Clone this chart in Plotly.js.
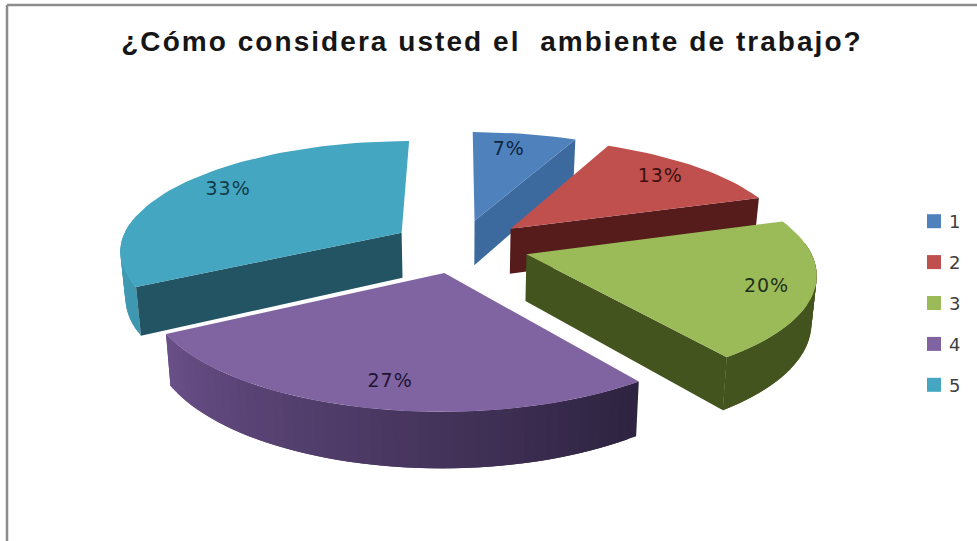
<!DOCTYPE html>
<html>
<head>
<meta charset="utf-8">
<script src="https://cdn.plot.ly/plotly-3.0.1.min.js"></script>
<style>
html,body{margin:0;padding:0;background:#fff}
#chart{width:977px;height:541px}
.gtitle{letter-spacing:2.05px}
.textpoint text{letter-spacing:1px}
.legendtext{transform:translateX(-5px)}
</style>
</head>
<body>
<div id="chart"></div>
<script>
// Survey results
const chartTitle = '¿Cómo considera usted el\u00a0\u00a0ambiente de trabajo?';
const categories = ['1', '2', '3', '4', '5'];
const percents = [7, 13, 20, 27, 33];

// Slice colours: top face, cut-face, rim at its lightest and darkest, label ink
const topColors = ['#4f81bd', '#c0504d', '#9bbb59', '#8064a2', '#44a6c1'];
const cutColors = ['#3c6a9e', '#561c1c', '#44541f', '#3c2c57', '#235463'];
const rimLight = ['#3c6a9e', '#561c1c', '#44541f', '#6a5089', '#48a8c4'];
const rimDark = ['#3c6a9e', '#561c1c', '#44541f', '#2e2340', '#3f97b0'];
const labelInk = ['#10263f', '#3d1110', '#23301a', '#1f1433', '#123c4a'];

// Perspective pie model, expressed in the 977x541 plot coordinates
const CX = 460, CY = 246;      // pie centre
const AX = 282, AY = 109;      // horizontal and vertical semi-axes
const PERSP = 0.15;            // foreshortening toward the back
const EXPLODE = 0.245;         // slice pull-out, in radii
const THICK = 46;              // extrusion height
const BASE_SHRINK = 0.985;     // lower face converges slightly
const STEP = 2;                // arc resolution, degrees
const LABEL_RADIUS = 0.8;      // label distance along each slice's mid-angle
const labelShiftX = [-7, 0, 12, 6, 3];   // small per-label placement tweaks
const labelShiftY = [1, -1, 4, 5, -2];

const rad = d => d * Math.PI / 180;

// Project a point on the pie plane; lower=true gives the extruded base
function project(X, Y, lower) {
  const s = 1 / (1 + PERSP * Y);
  let px = CX + AX * X * s;
  let py = CY - AY * Y * s;
  if (lower) {
    px = CX + (px - CX) * BASE_SHRINK;
    py += THICK * s;
  }
  return [px, py];
}

function hex(c) { return [1, 3, 5].map(i => parseInt(c.substr(i, 2), 16)); }
function mix(a, b, t) {
  const p = hex(a), q = hex(b);
  return 'rgb(' + p.map((v, i) => Math.round(v + (q[i] - v) * t)).join(',') + ')';
}

// Turn the percentages into slice angle ranges, clockwise from twelve o'clock
const total = percents.reduce((a, b) => a + b, 0);
let cursor = 0;
const slices = percents.map((v, i) => {
  const start = cursor;
  cursor += v / total * 360;
  return { i, start, end: cursor, mid: (start + cursor) / 2 };
});

function point(sl, deg, r, lower) {
  const ex = EXPLODE * Math.sin(rad(sl.mid));
  const ey = EXPLODE * Math.cos(rad(sl.mid));
  return project(ex + r * Math.sin(rad(deg)), ey + r * Math.cos(rad(deg)), lower);
}

function polygon(pts, color) {
  return {
    type: 'scatter', mode: 'lines', fill: 'toself', fillcolor: color,
    x: pts.map(p => p[0]), y: pts.map(p => p[1]),
    line: { color: color, width: 0 }, hoverinfo: 'skip', showlegend: false
  };
}

const traces = [];

// Paint back to front so nearer slices cover farther ones
[0, 4, 1, 2, 3].forEach(idx => {
  const sl = slices[idx];
  const wall = deg => polygon([
    point(sl, deg, 0, false), point(sl, deg, 1, false),
    point(sl, deg, 1, true), point(sl, deg, 0, true)
  ], cutColors[idx]);

  // Rim, shaded segment by segment; each segment overlaps the next to hide seams
  for (let a = sl.start; a < sl.end - 1e-6; a += STEP) {
    const b = Math.min(a + STEP * 2, sl.end);
    if (Math.cos(rad(a + STEP / 2)) > 0.1) continue;
    const t = 1 - (a - sl.start) / (sl.end - sl.start);
    const pts = [];
    for (let d = a; d < b; d += 0.5) pts.push(point(sl, d, 1, false));
    pts.push(point(sl, b, 1, false));
    pts.push(point(sl, b, 1, true));
    for (let d = b - 0.5; d >= a; d -= 0.5) pts.push(point(sl, d, 1, true));
    traces.push(polygon(pts, mix(rimLight[idx], rimDark[idx], t)));
  }

  // Cut faces that turn toward the viewer
  if (Math.sin(rad(sl.end)) > 0.01) traces.push(wall(sl.end));
  if (Math.sin(rad(sl.start)) < -0.01) traces.push(wall(sl.start));

  // Top face
  const topPts = [point(sl, sl.start, 0, false)];
  for (let a = sl.start; a < sl.end; a += STEP) topPts.push(point(sl, a, 1, false));
  topPts.push(point(sl, sl.end, 1, false));
  traces.push(polygon(topPts, topColors[idx]));
});

// Percentage labels, placed on the top faces
slices.forEach(sl => {
  const p = point(sl, sl.mid, LABEL_RADIUS, false);
  traces.push({
    type: 'scatter', mode: 'text',
    x: [p[0] + labelShiftX[sl.i]], y: [p[1] + labelShiftY[sl.i]],
    text: [percents[sl.i] + '%'], textposition: 'middle center',
    textfont: { family: 'DejaVu Sans', size: 19, color: labelInk[sl.i] },
    hoverinfo: 'skip', showlegend: false
  });
});

// Legend keys
categories.forEach((c, i) => {
  traces.push({
    type: 'scatter', mode: 'markers', name: c, x: [null], y: [null],
    legendgroup: c,
    marker: { symbol: 'square', size: 14, color: topColors[i] }
  });
});

const frame = { type: 'line', xref: 'paper', yref: 'paper', line: { color: '#8c8c8c', width: 2.5 } };

Plotly.newPlot('chart', traces, {
  width: 977, height: 541,
  margin: { l: 0, r: 0, t: 0, b: 0 },
  paper_bgcolor: '#ffffff', plot_bgcolor: '#ffffff',
  title: {
    text: chartTitle, x: 492 / 977, xanchor: 'center', y: 1 - 41 / 541, yanchor: 'middle',
    font: { family: 'Liberation Sans', size: 28, color: '#161616', weight: 'bold' }
  },
  xaxis: { range: [0, 977], visible: false, fixedrange: true },
  yaxis: { range: [541, 0], visible: false, fixedrange: true },
  showlegend: true,
  legend: {
    x: 914 / 977, xanchor: 'left', y: 1 - 203 / 541, yanchor: 'top',
    traceorder: 'grouped', tracegroupgap: 14.5,
    itemwidth: 30, bgcolor: 'rgba(0,0,0,0)',
    font: { family: 'DejaVu Sans', size: 18, color: '#404040' }
  },
  shapes: [
    Object.assign({}, frame, { x0: 7 / 977, x1: 1, y0: 1 - 5 / 541, y1: 1 - 5 / 541 }),
    Object.assign({}, frame, { x0: 7 / 977, x1: 7 / 977, y0: 1 - 5 / 541, y1: 0 })
  ]
}, { displayModeBar: false, staticPlot: true });
</script>
</body>
</html>
